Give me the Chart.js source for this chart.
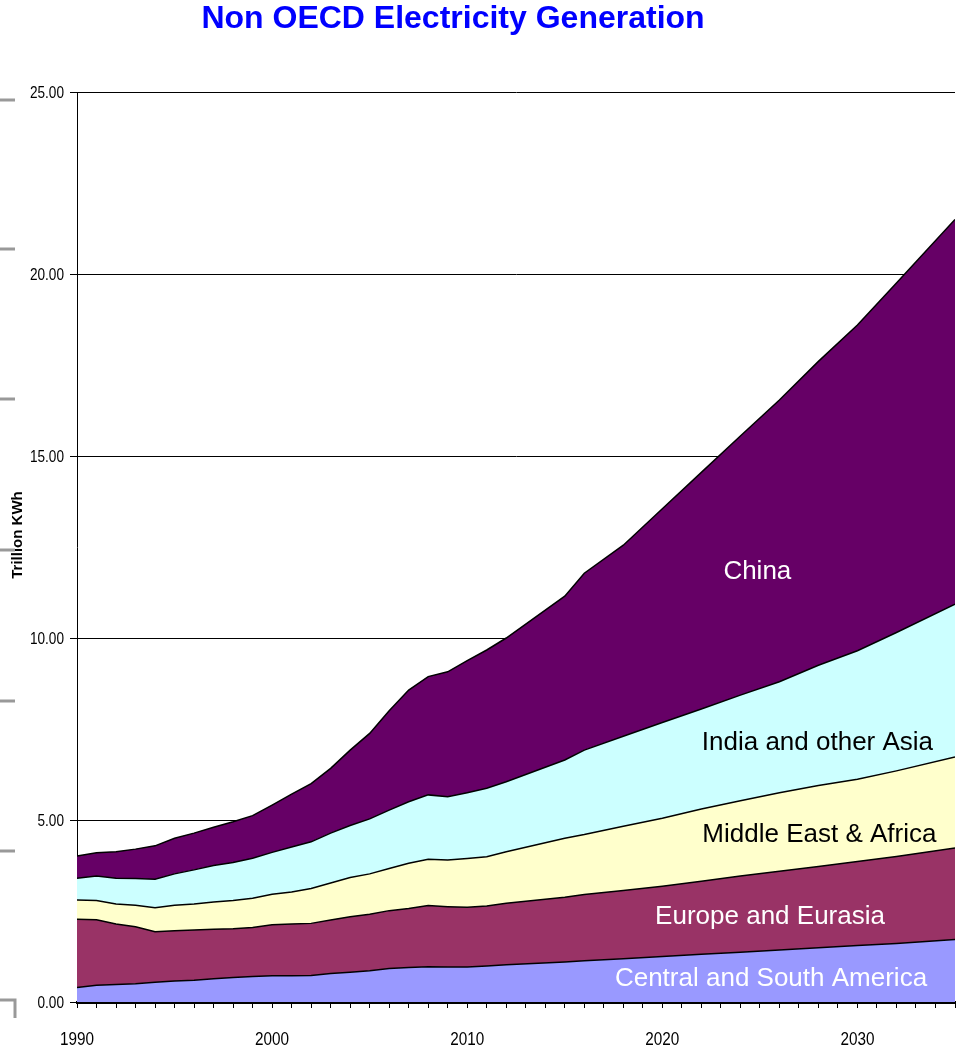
<!DOCTYPE html>
<html>
<head>
<meta charset="utf-8">
<title>Non OECD Electricity Generation</title>
<script src="https://cdn.jsdelivr.net/npm/chart.js@4.4.1/dist/chart.umd.min.js"></script>
<style>
  html, body { margin: 0; padding: 0; background: #fff; }
  canvas { display: block; }
</style>
</head>
<body>
<canvas id="chart" width="956" height="1050"></canvas>
<script>
// years on the x axis (history annual, projections sparser)
const years = [1990, 1991, 1992, 1993, 1994, 1995, 1996, 1997, 1998, 1999,
  2000, 2001, 2002, 2003, 2004, 2005, 2006, 2007, 2008, 2009, 2010, 2011, 2012,
  2015, 2016, 2018, 2020, 2022, 2024, 2026, 2028, 2030, 2032, 2035];

// trillion kWh per region, stacked bottom to top
const centralSouthAmerica = [0.40, 0.46, 0.48, 0.50, 0.54, 0.58, 0.60, 0.64, 0.67, 0.70,
  0.72, 0.72, 0.73, 0.78, 0.82, 0.86, 0.92, 0.95, 0.97, 0.96, 0.96, 0.99, 1.02,
  1.10, 1.13, 1.19, 1.25, 1.31, 1.37, 1.43, 1.49, 1.55, 1.61, 1.72];
const europeEurasia = [1.87, 1.80, 1.66, 1.57, 1.39, 1.38, 1.38, 1.36, 1.34, 1.35,
  1.40, 1.42, 1.43, 1.47, 1.52, 1.55, 1.59, 1.62, 1.68, 1.66, 1.64, 1.65, 1.69,
  1.78, 1.82, 1.87, 1.93, 2.01, 2.09, 2.16, 2.23, 2.31, 2.39, 2.51];
const middleEastAfrica = [0.53, 0.53, 0.55, 0.59, 0.66, 0.70, 0.71, 0.75, 0.78, 0.80,
  0.84, 0.88, 0.96, 1.02, 1.08, 1.11, 1.16, 1.24, 1.27, 1.28, 1.34, 1.35, 1.42,
  1.62, 1.65, 1.77, 1.87, 1.98, 2.07, 2.16, 2.23, 2.26, 2.35, 2.50];
const indiaOtherAsia = [0.60, 0.67, 0.71, 0.73, 0.78, 0.86, 0.94, 1.00, 1.04, 1.10,
  1.15, 1.24, 1.28, 1.37, 1.43, 1.51, 1.60, 1.69, 1.77, 1.74, 1.81, 1.88, 1.92,
  2.15, 2.32, 2.47, 2.63, 2.75, 2.90, 3.05, 3.30, 3.53, 3.80, 4.20];
const china = [0.61, 0.64, 0.73, 0.81, 0.92, 0.98, 1.01, 1.05, 1.12, 1.17,
  1.30, 1.45, 1.60, 1.78, 2.07, 2.35, 2.73, 3.07, 3.25, 3.43, 3.63, 3.80, 3.95,
  4.50, 4.86, 5.25, 5.87, 6.50, 7.12, 7.74, 8.35, 8.95, 9.60, 10.57];

const seriesNames = ['Central and South America', 'Europe and Eurasia',
  'Middle East & Africa', 'India and other Asia', 'China'];
const seriesColors = ['#9999FF', '#993366', '#FFFFCC', '#CCFFFF', '#660066'];
const yTicks = [0, 5, 10, 15, 20, 25];
const xLabelYears = [1990, 2000, 2010, 2020, 2030];

// in-area region labels: [text, year, value, colour]
const areaLabels = [
  ['China', 2024.87, 11.81, '#ffffff'],
  ['India and other Asia', 2027.95, 7.12, '#000000'],
  ['Middle East & Africa', 2028.05, 4.59, '#000000'],
  ['Europe and Eurasia', 2025.52, 2.34, '#ffffff'],
  ['Central and South America', 2025.57, 0.63, '#ffffff']
];

const seriesValues = [centralSouthAmerica, europeEurasia, middleEastAfrica, indiaOtherAsia, china];

const datasets = seriesValues.map((vals, i) => ({
  label: seriesNames[i],
  data: years.map((yr, j) => ({ x: yr, y: vals[j] })),
  backgroundColor: seriesColors[i],
  borderColor: '#000000',
  borderWidth: 1.5,
  pointRadius: 0,
  tension: 0,
  fill: i === 0 ? 'origin' : '-1'
}));

const SANS = '"Liberation Sans", Arial, sans-serif';

// narrow axis numbers: regular sans squeezed horizontally
function narrowText(ctx, text, x, y, squeeze) {
  ctx.save();
  ctx.translate(x, y);
  ctx.scale(squeeze, 1);
  ctx.fillText(text, 0, 0);
  ctx.restore();
}

// title, axis text, area labels and the grey marks down the left margin
const decorations = {
  id: 'decorations',
  afterDatasetsDraw(chart) {
    const { ctx, scales: { x, y } } = chart;
    ctx.save();
    ctx.font = '26px ' + SANS;
    ctx.textAlign = 'center';
    ctx.textBaseline = 'middle';
    areaLabels.forEach(([text, yr, val, color]) => {
      ctx.fillStyle = color;
      ctx.fillText(text, x.getPixelForValue(yr), y.getPixelForValue(val));
    });
    ctx.restore();
  },
  afterDraw(chart) {
    const { ctx, scales: { x, y } } = chart;
    ctx.save();

    ctx.fillStyle = '#0000FF';
    ctx.font = 'bold 32px ' + SANS;
    ctx.textAlign = 'center';
    ctx.textBaseline = 'middle';
    ctx.fillText('Non OECD Electricity Generation', 453, 19);

    ctx.fillStyle = '#000000';
    ctx.font = '17px ' + SANS;
    ctx.textAlign = 'right';
    yTicks.forEach(v => narrowText(ctx, v.toFixed(2), 64, y.getPixelForValue(v) + 1, 0.8));

    ctx.font = '18px ' + SANS;
    ctx.textAlign = 'center';
    xLabelYears.forEach(yr => narrowText(ctx, String(yr), x.getPixelForValue(yr), 1040, 0.85));

    ctx.save();
    ctx.translate(18, 535);
    ctx.rotate(-Math.PI / 2);
    ctx.font = 'bold 15px ' + SANS;
    ctx.textAlign = 'center';
    ctx.fillText('Trillion KWh', 0, 0);
    ctx.restore();

    ctx.strokeStyle = '#999999';
    ctx.lineWidth = 3;
    [100, 249, 399, 550, 701, 851].forEach(py => {
      ctx.beginPath();
      ctx.moveTo(0, py);
      ctx.lineTo(15, py);
      ctx.stroke();
    });
    ctx.beginPath();
    ctx.moveTo(0, 1000);
    ctx.lineTo(15, 1000);
    ctx.lineTo(15, 1018);
    ctx.stroke();
    ctx.restore();
  }
};

new Chart(document.getElementById('chart'), {
  type: 'line',
  data: { datasets },
  plugins: [decorations],
  options: {
    responsive: false,
    devicePixelRatio: 1,
    animation: false,
    layout: { padding: { left: 0, right: 1, top: 92, bottom: 0 } },
    plugins: {
      legend: { display: false },
      tooltip: { enabled: false },
      title: { display: false }
    },
    scales: {
      x: {
        type: 'linear',
        min: 1990,
        max: 2035,
        afterFit(scale) {
          scale.height = 48;
          scale.paddingLeft = 0;
          scale.paddingRight = 0;
        },
        afterBuildTicks(scale) {
          scale.ticks = [];
          for (let yr = 1990; yr <= 2035; yr++) scale.ticks.push({ value: yr });
        },
        ticks: { display: false, autoSkip: false },
        grid: {
          drawOnChartArea: false,
          drawTicks: true,
          tickLength: 6,
          color: '#000000',
          lineWidth: 1
        },
        border: { display: true, color: '#000000', width: 3 }
      },
      y: {
        stacked: true,
        min: 0,
        max: 25,
        afterFit(scale) {
          scale.width = 77;
          scale.paddingTop = 0;
          scale.paddingBottom = 0;
        },
        afterBuildTicks(scale) {
          scale.ticks = yTicks.map(v => ({ value: v }));
        },
        ticks: { display: false },
        grid: {
          color: '#000000',
          lineWidth: 1,
          tickLength: 7,
          drawTicks: true
        },
        border: { display: true, color: '#000000', width: 1 }
      }
    }
  }
});
</script>
</body>
</html>
